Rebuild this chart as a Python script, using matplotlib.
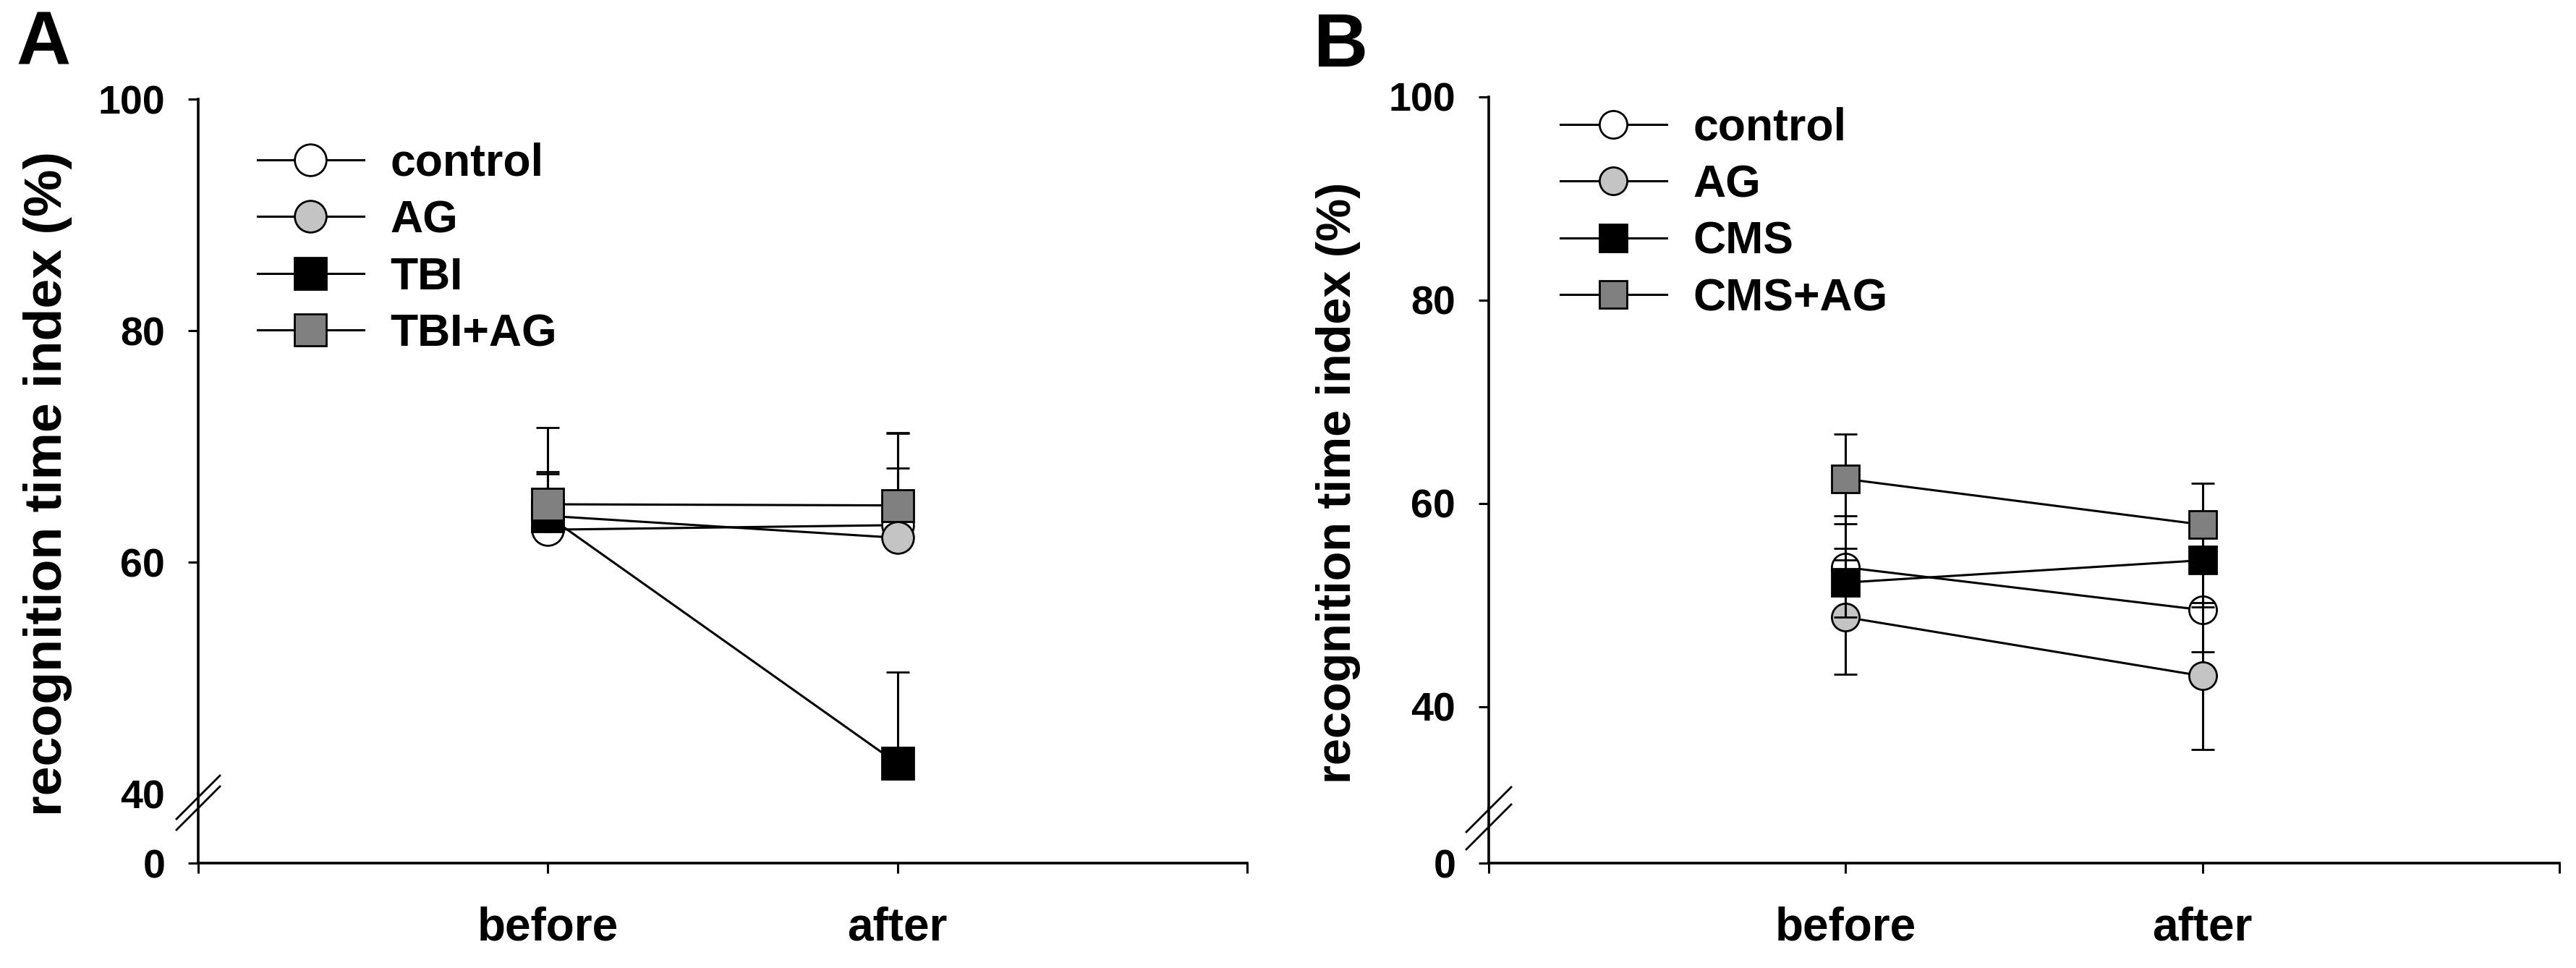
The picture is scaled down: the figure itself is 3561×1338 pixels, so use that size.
import matplotlib
matplotlib.use('Agg')
import matplotlib.pyplot as plt
from matplotlib import font_manager
from matplotlib.lines import Line2D

# ---------------- data ----------------
categories = ['before', 'after']
x_pos = [1, 2]

A_groups = ['control', 'AG', 'TBI', 'TBI+AG']
A_control = [62.8, 63.2]
A_AG = [64.0, 62.1]
A_TBI = [64.0, 42.6]
A_TBIAG = [65.0, 64.9]
A_control_err = [5.0, 8.0]
A_AG_err = [3.6, 6.0]
A_TBI_err = [7.6, 7.9]
A_TBIAG_err = [1.0, 6.2]

B_groups = ['control', 'AG', 'CMS', 'CMS+AG']
B_control = [53.7, 49.5]
B_AG = [48.8, 43.0]
B_CMS = [52.2, 54.4]
B_CMSAG = [62.4, 57.9]
B_control_err = [5.1, 4.1]
B_AG_err = [5.6, 7.2]
B_CMS_err = [3.4, 4.6]
B_CMSAG_err = [4.4, 4.1]

y_ticks_upper = [40, 60, 80, 100]
y_ticks_lower = [0]
x_ticks = [0, 1, 2, 3]
x_ticklabels = ['', 'before', 'after', '']

# ---------------- style ----------------
W, H, DPI = 3561, 1338, 100
names = {f.name for f in font_manager.fontManager.ttflist}
NARROW = 'Liberation Sans Narrow' in names
BASE = ['Liberation Sans', 'DejaVu Sans']
NARROW_FAM = (['Liberation Sans Narrow'] + BASE) if NARROW else BASE
plt.rcParams['font.family'] = BASE
plt.rcParams['font.weight'] = 'bold'

markers = ['o', 'o', 's', 's']
faces = ['white', '#c4c4c4', 'black', '#808080']

fig = plt.figure(figsize=(W / DPI, H / DPI), dpi=DPI)


def panel(x0, x1, ytop, ybrk, ybot, ymin, groups, means, errs, upper_only,
          msize, leg_xy, ylabel_xy, ylabel_size, letter, letter_xy, hide40,
          brk_y, brk_half):
    up = fig.add_axes([x0 / W, 1 - ybrk / H, (x1 - x0) / W, (ybrk - ytop) / H])
    lo = fig.add_axes([x0 / W, 1 - ybot / H, (x1 - x0) / W, (ybot - ybrk) / H])
    for ax in (up, lo):
        ax.set_xlim(0, 3)
        ax.patch.set_alpha(0)
        for s in ('top', 'right'):
            ax.spines[s].set_visible(False)
        for s in ('left', 'bottom'):
            ax.spines[s].set_linewidth(2.6)
    up.spines['bottom'].set_visible(False)
    up.set_ylim(ymin, 100)
    up.set_yticks(y_ticks_upper)
    up.set_xticks([])
    lo.set_ylim(0, 1)
    lo.set_yticks(y_ticks_lower)
    lo.set_xticks(x_ticks)
    lo.set_xticklabels(x_ticklabels)
    tick_kw = dict(direction='out', length=10, width=2.2)
    up.tick_params(axis='y', pad=23, **tick_kw)
    lo.tick_params(axis='y', pad=23, **tick_kw)
    lo.tick_params(axis='x', pad=33, labelsize=46, **tick_kw)
    ysize = 43 if NARROW else 40
    for ax in (up, lo):
        for lab in ax.get_yticklabels():
            lab.set_family(NARROW_FAM)
            lab.set_fontsize(ysize)
            lab.set_fontweight('bold')
    if hide40:
        for t, loc in zip(up.yaxis.get_major_ticks(), up.get_yticks()):
            if loc == 40:
                t.tick1line.set_visible(False)

    handles = []
    for i, (g, m, e) in enumerate(zip(groups, means, errs)):
        yerr = [[0] * len(e), e] if upper_only else e
        up.errorbar(x_pos, m, yerr=yerr, fmt='-', marker=markers[i],
                    color='black', mfc=faces[i], mec='black', ms=msize,
                    mew=2.0, lw=2.2, elinewidth=2.2, capsize=11.5,
                    capthick=2.2, zorder=3 + i, clip_on=False)
        handles.append(Line2D([], [], color='black', lw=2.2, marker=markers[i],
                              mfc=faces[i], mec='black', ms=msize, mew=2.0))
    up.legend(handles=handles, labels=groups, loc='center left',
              bbox_to_anchor=(leg_xy[0] / W, 1 - leg_xy[1] / H),
              bbox_transform=fig.transFigure, frameon=False,
              prop={'family': BASE, 'weight': 'bold', 'size': 45},
              handlelength=2.35, handletextpad=0.58, labelspacing=0.31,
              borderpad=0, borderaxespad=0, numpoints=1)

    fig.text(ylabel_xy[0] / W, 1 - ylabel_xy[1] / H,
             'recognition time index (%)', rotation=90, ha='center',
             va='center', fontsize=ylabel_size if NARROW else ylabel_size * 0.84,
             fontweight='bold', family=NARROW_FAM)
    fig.text(letter_xy[0] / W, 1 - letter_xy[1] / H, letter, ha='center',
             va='center', fontsize=75, fontweight='bold', family=BASE)

    # axis break marks
    for yc in brk_y:
        fig.add_artist(Line2D([(x0 - brk_half) / W, (x0 + brk_half) / W],
                              [1 - (yc + brk_half) / H, 1 - (yc - brk_half) / H],
                              color='black', lw=2.0, transform=fig.transFigure))
    return up, lo


panel(274, 1724, 137, 1097, 1193, 40, A_groups,
      [A_control, A_AG, A_TBI, A_TBIAG],
      [A_control_err, A_AG_err, A_TBI_err, A_TBIAG_err], True,
      31.5, (356, 344), (66, 669), 63, 'A', (60, 62), True,
      (1102, 1117), 30)

panel(2058, 3538, 134, 1117, 1193, 30, B_groups,
      [B_control, B_AG, B_CMS, B_CMSAG],
      [B_control_err, B_AG_err, B_CMS_err, B_CMSAG_err], False,
      27.5, (2157, 295), (1850, 667), 57, 'B', (1854, 66), False,
      (1119, 1143), 31)

fig.savefig('out.png', dpi=DPI)
